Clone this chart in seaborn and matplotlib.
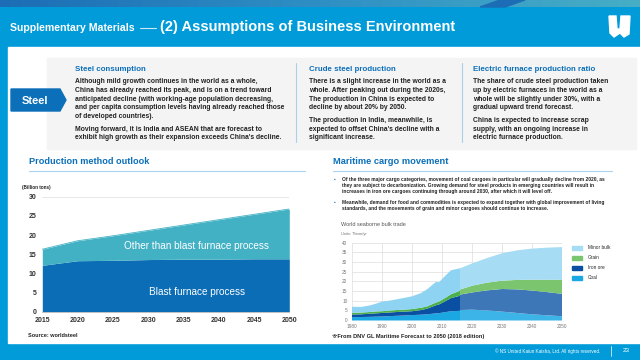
import numpy as np
import matplotlib
matplotlib.use("Agg")
import matplotlib.pyplot as plt
import matplotlib.patches as mpatches
import seaborn as sns

# production method outlook (worldsteel)
prod_years = [2015, 2020, 2025, 2030, 2035, 2040, 2045, 2050]
blast_furnace = [12.1, 13.3, 13.4, 13.6, 13.7, 13.7, 13.8, 13.8]
other_process = [4.2, 5.2, 6.4, 7.6, 8.9, 10.3, 11.6, 13.0]

# world seaborne bulk trade, history
hist_years = [1980, 1983, 1986, 1988, 1990, 1993, 1996, 2000, 2003, 2005, 2008, 2009, 2011, 2013, 2016]
hist_coal = [1.7, 1.8, 1.9, 2.0, 2.1, 2.3, 2.5, 2.8, 3.0, 3.2, 3.7, 3.8, 4.3, 4.8, 5.0]
hist_iron = [1.4, 1.4, 1.6, 1.7, 1.8, 1.9, 2.0, 2.0, 2.4, 2.9, 4.2, 4.5, 5.6, 6.8, 7.8]
hist_grain = [0.9, 0.9, 0.9, 1.0, 0.9, 1.0, 1.0, 1.1, 1.2, 1.2, 1.4, 1.5, 1.7, 2.0, 2.6]
hist_minor = [3.1, 2.9, 3.4, 4.0, 5.0, 5.2, 5.8, 6.6, 7.6, 8.8, 10.7, 10.0, 11.4, 12.4, 11.6]

# forecast
fc_years = [2016, 2020, 2025, 2030, 2035, 2040, 2045, 2050]
fc_coal = [5.4, 5.6, 5.2, 4.6, 3.9, 3.2, 2.7, 2.2]
fc_iron = [8.0, 8.9, 10.4, 11.7, 12.2, 12.3, 12.0, 11.6]
fc_grain = [2.6, 3.5, 4.0, 4.3, 4.9, 5.6, 6.4, 7.2]
fc_minor = [11.0, 11.5, 12.7, 14.2, 15.3, 16.1, 16.6, 17.0]

legend_labels = ["Minor bulk", "Grain", "Iron ore", "Coal"]

sns.set_style("white")
plt.rcParams["font.family"] = ["Liberation Sans", "DejaVu Sans"]

W, H = 640, 360
fig = plt.figure(figsize=(6.4, 3.6), dpi=100)
bg = fig.add_axes([0, 0, 1, 1], zorder=0)
bg.set_xlim(0, W)
bg.set_ylim(H, 0)
bg.axis("off")

blue = "#009bd8"
dark = "#222222"
head_blue = "#0b6fba"

# frame
bg.add_patch(mpatches.Rectangle((0, 0), W, H, color=blue, zorder=0))
bg.add_patch(mpatches.Rectangle((8, 47), W - 8, 296, color="white", zorder=1))
grad = np.linspace(0, 1, 256).reshape(1, -1)
cmap = matplotlib.colors.LinearSegmentedColormap.from_list("top", ["#1c6db5", "#2f8fc4", "#46aec6"])
bg.imshow(grad, extent=(0, W, 7, 0), aspect="auto", cmap=cmap, zorder=2)
bg.add_patch(mpatches.Polygon([[500, 0], [525, 0], [505, 7], [480, 7]], color="#1c6db5", zorder=3))

# header
bg.text(10, 28, "Supplementary Materials", color="white", fontsize=7.6, fontweight="bold", va="center", zorder=4)
bg.plot([140, 156], [28, 28], color="#cfe8f6", lw=0.8, zorder=4)
bg.text(160, 27.5, "(2) Assumptions of Business Environment", color="white", fontsize=10.5,
        fontweight="bold", va="center", zorder=4)
bg.add_patch(mpatches.Polygon([[609, 16], [616, 16], [617, 29], [620, 29], [621, 16], [630, 16],
                               [629, 34], [624, 37], [620, 33], [614, 37], [610, 33]],
                              color="white", zorder=4))

# gray box
bg.add_patch(mpatches.Rectangle((47, 58), 589, 91, color="#f4f4f4", zorder=2))
bg.add_patch(mpatches.Polygon([[11, 89], [60, 89], [66, 100], [60, 111], [11, 111]], color=head_blue, zorder=3))
bg.text(35, 100.5, "Steel", color="white", fontsize=8, fontweight="bold", ha="center", va="center", zorder=4)
for x in [296, 462]:
    bg.plot([x, x], [63, 142], color="#a9cfe9", lw=0.8, zorder=3)

cols = [
    (75, "Steel consumption",
     ["Although mild growth continues in the world as a whole,",
      "China has already reached its peak, and is on a trend toward",
      "anticipated decline (with working-age population decreasing,",
      "and per capita consumption levels having already reached those",
      "of developed countries)."],
     ["Moving forward, it is India and ASEAN that are forecast to",
      "exhibit high growth as their expansion exceeds China's decline."]),
    (309, "Crude steel production",
     ["There is a slight increase in the world as a",
      "whole. After peaking out during the 2020s,",
      "The production in China is expected to",
      "decline by about 20% by 2050."],
     ["The production in India, meanwhile, is",
      "expected to offset China's decline with a",
      "significant increase."]),
    (473, "Electric furnace production ratio",
     ["The share of crude steel production taken",
      "up by electric furnaces in the world as a",
      "whole will be slightly under 30%, with a",
      "gradual upward trend forecast."],
     ["China is expected to increase scrap",
      "supply, with an ongoing increase in",
      "electric furnace production."]),
]
for x, title, p1, p2 in cols:
    bg.text(x, 69.5, title, color=head_blue, fontsize=5.7, fontweight="bold", va="center", zorder=4)
    y = 81.8
    for line in p1:
        bg.text(x, y, line, color=dark, fontsize=4.85, fontweight="bold", va="center", zorder=4)
        y += 8.7
    y = 137.8 - 8.7 * (len(p2) - 1)
    for line in p2:
        bg.text(x, y, line, color=dark, fontsize=4.85, fontweight="bold", va="center", zorder=4)
        y += 8.7

# section headings
bg.text(29, 161.5, "Production method outlook", color=head_blue, fontsize=6.6, fontweight="bold", va="center", zorder=4)
bg.plot([29, 305], [170.5, 170.5], color="#a9d3ee", lw=0.8, zorder=4)
bg.text(333, 161.5, "Maritime cargo movement", color=head_blue, fontsize=6.7, fontweight="bold", va="center", zorder=4)
bg.plot([333, 612], [170.5, 170.5], color="#a9d3ee", lw=0.8, zorder=4)

bullets = [
    ["Of the three major cargo categories, movement of coal cargoes in particular will gradually decline from 2020, as",
     "they are subject to decarbonization. Growing demand for steel products in emerging countries will result in",
     "increases in iron ore cargoes continuing through around 2030, after which it will level off."],
    ["Meanwhile, demand for food and commodities is expected to expand together with global improvement of living",
     "standards, and the movements of grain and minor cargoes should continue to increase."],
]
y = 179.3
for b in bullets:
    bg.text(334, y, "\u25aa", color="#2a6db5", fontsize=3.4, va="center", zorder=4)
    for line in b:
        bg.text(342, y, line, color=dark, fontsize=3.52, fontweight="bold", va="center", zorder=4)
        y += 6.0
    y += 5.0

bg.text(341, 224, "World seaborne bulk trade", color="#555555", fontsize=4.0, va="center", zorder=4)
bg.text(341, 234, "Units: Tbnm/yr", color="#777777", fontsize=2.9, va="center", zorder=4)

bg.text(22, 188, "(Billion tons)", color=dark, fontsize=3.3, fontweight="bold", va="center", zorder=4)
bg.text(28, 335.7, "Source: worldsteel", color=dark, fontsize=4.0, fontweight="bold", va="center", zorder=4)
bg.text(332, 336.5, "\u203bFrom DNV GL Maritime Forecast to 2050 (2018 edition)", color=dark, fontsize=4.1,
        fontweight="bold", va="center", zorder=4)

bg.text(600, 351, "\u00a9 NS United Kaiun Kaisha, Ltd. All rights reserved.", color="white", fontsize=3.3,
        ha="right", va="center", zorder=4)
bg.plot([611, 611], [346, 356], color="white", lw=0.5, zorder=4)
bg.text(626, 351, "23", color="white", fontsize=4.6, ha="center", va="center", zorder=4)

# production method chart
ax1 = fig.add_axes([42.3 / W, (H - 311.7) / H, 247 / W, 115 / H], zorder=5)
ax1.patch.set_alpha(0)
total = np.array(blast_furnace) + np.array(other_process)
ax1.fill_between(prod_years, 0, blast_furnace, color="#0b6db5", lw=0)
ax1.fill_between(prod_years, blast_furnace, total, color="#42b1c4", lw=0)
sns.lineplot(x=prod_years, y=total, ax=ax1, color="#42b1c4", lw=0.6)
ax1.axhline(30, color="#e3e3e3", lw=0.6, zorder=0)
ax1.set_xlim(2015, 2050)
ax1.set_ylim(0, 30)
ax1.set_xticks(prod_years)
ax1.set_yticks(range(0, 31, 5))
for s in ["top", "right", "left"]:
    ax1.spines[s].set_visible(False)
ax1.spines["bottom"].set_color("#bbbbbb")
ax1.spines["bottom"].set_linewidth(0.6)
ax1.tick_params(length=0, labelsize=5, labelcolor="#333333", pad=4)
for lab in ax1.get_xticklabels() + ax1.get_yticklabels():
    lab.set_fontweight("bold")
ax1.text(2036.9, 17.1, "Other than blast furnace process", color="white", fontsize=7.2, ha="center", va="center")
ax1.text(2036.9, 5.2, "Blast furnace process", color="white", fontsize=7.2, ha="center", va="center")

# seaborne bulk trade chart
ax2 = fig.add_axes([351.5 / W, (H - 320) / H, 210 / W, 77.3 / H], zorder=5)
ax2.patch.set_alpha(0)
hist_cols = ["#1ba8e2", "#0b4fa3", "#4cb04b", "#8fd3f2"]
fc_cols = ["#3db4e8", "#3d77b8", "#7cc56f", "#a6dcf4"]
ax2.stackplot(hist_years, hist_coal, hist_iron, hist_grain, hist_minor, colors=hist_cols, lw=0)
ax2.stackplot(fc_years, fc_coal, fc_iron, fc_grain, fc_minor, colors=fc_cols, lw=0)
ax2.set_xlim(1980, 2050)
ax2.set_ylim(0, 40)
ax2.set_xticks(range(1980, 2051, 10))
ax2.set_yticks(range(0, 41, 5))
ax2.grid(True, color="#dddddd", lw=0.5)
ax2.set_axisbelow(True)
for s in ax2.spines.values():
    s.set_visible(False)
ax2.tick_params(length=0, labelsize=3.4, labelcolor="#777777", pad=3)
handles = [mpatches.Patch(color=c) for c in [fc_cols[3], fc_cols[2], hist_cols[1], hist_cols[0]]]
ax2.legend(handles, legend_labels, loc="upper left", bbox_to_anchor=(1.03, 1.02), frameon=False,
           fontsize=3.4, handlelength=2.2, handleheight=0.9, labelspacing=1.05, handletextpad=1.2)

fig.savefig("out.png", dpi=100)
